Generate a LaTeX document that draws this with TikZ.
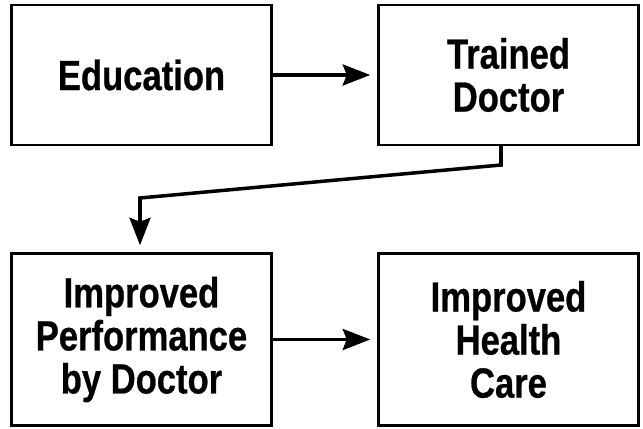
\documentclass[tikz,border=0pt]{standalone}
\usepackage{fontspec}
\newfontfamily\boxfont{Liberation Sans}[FakeStretch=0.82, FakeBold=0.6]
\usetikzlibrary{arrows.meta}
\tikzstyle{block}=[draw, line width=1.4pt, minimum width=5.2cm, align=center, inner sep=0pt, font=\boxfont\bfseries\fontsize{24}{24.5}\selectfont]
\tikzstyle{arrow}=[line width=2pt, -{Stealth[length=0.55cm, width=0.42cm, inset=0.08cm]}, shorten >=0.14cm]
\newcommand{\block}{\node[block]}

\begin{document}
\begin{tikzpicture}
\useasboundingbox[fill=white] (0,0) rectangle (12.86,8.58);
\block[minimum height=2.8cm] (Edu) at (2.83,7.08) {Education};
\block[minimum height=2.8cm] (Train) at (10.17,7.08) {Trained\\Doctor};
\block[minimum height=3.44cm] (Perf) at (2.83,1.79) {Improved\\Performance\\by Doctor};
\block[minimum height=3.44cm] (Care) at (10.17,1.79) {Improved\\Health\\Care};
\coordinate (k1) at (10.02,5.28);
\coordinate (k2) at (2.8,4.62);
\draw[arrow] (Edu) -- (Train);
\draw[arrow] (Train.south -| k1) -- (k1) -- (k2) -- (Perf.north -| k2);
\draw[arrow] (Perf) -- (Care);
\end{tikzpicture}
\end{document}
